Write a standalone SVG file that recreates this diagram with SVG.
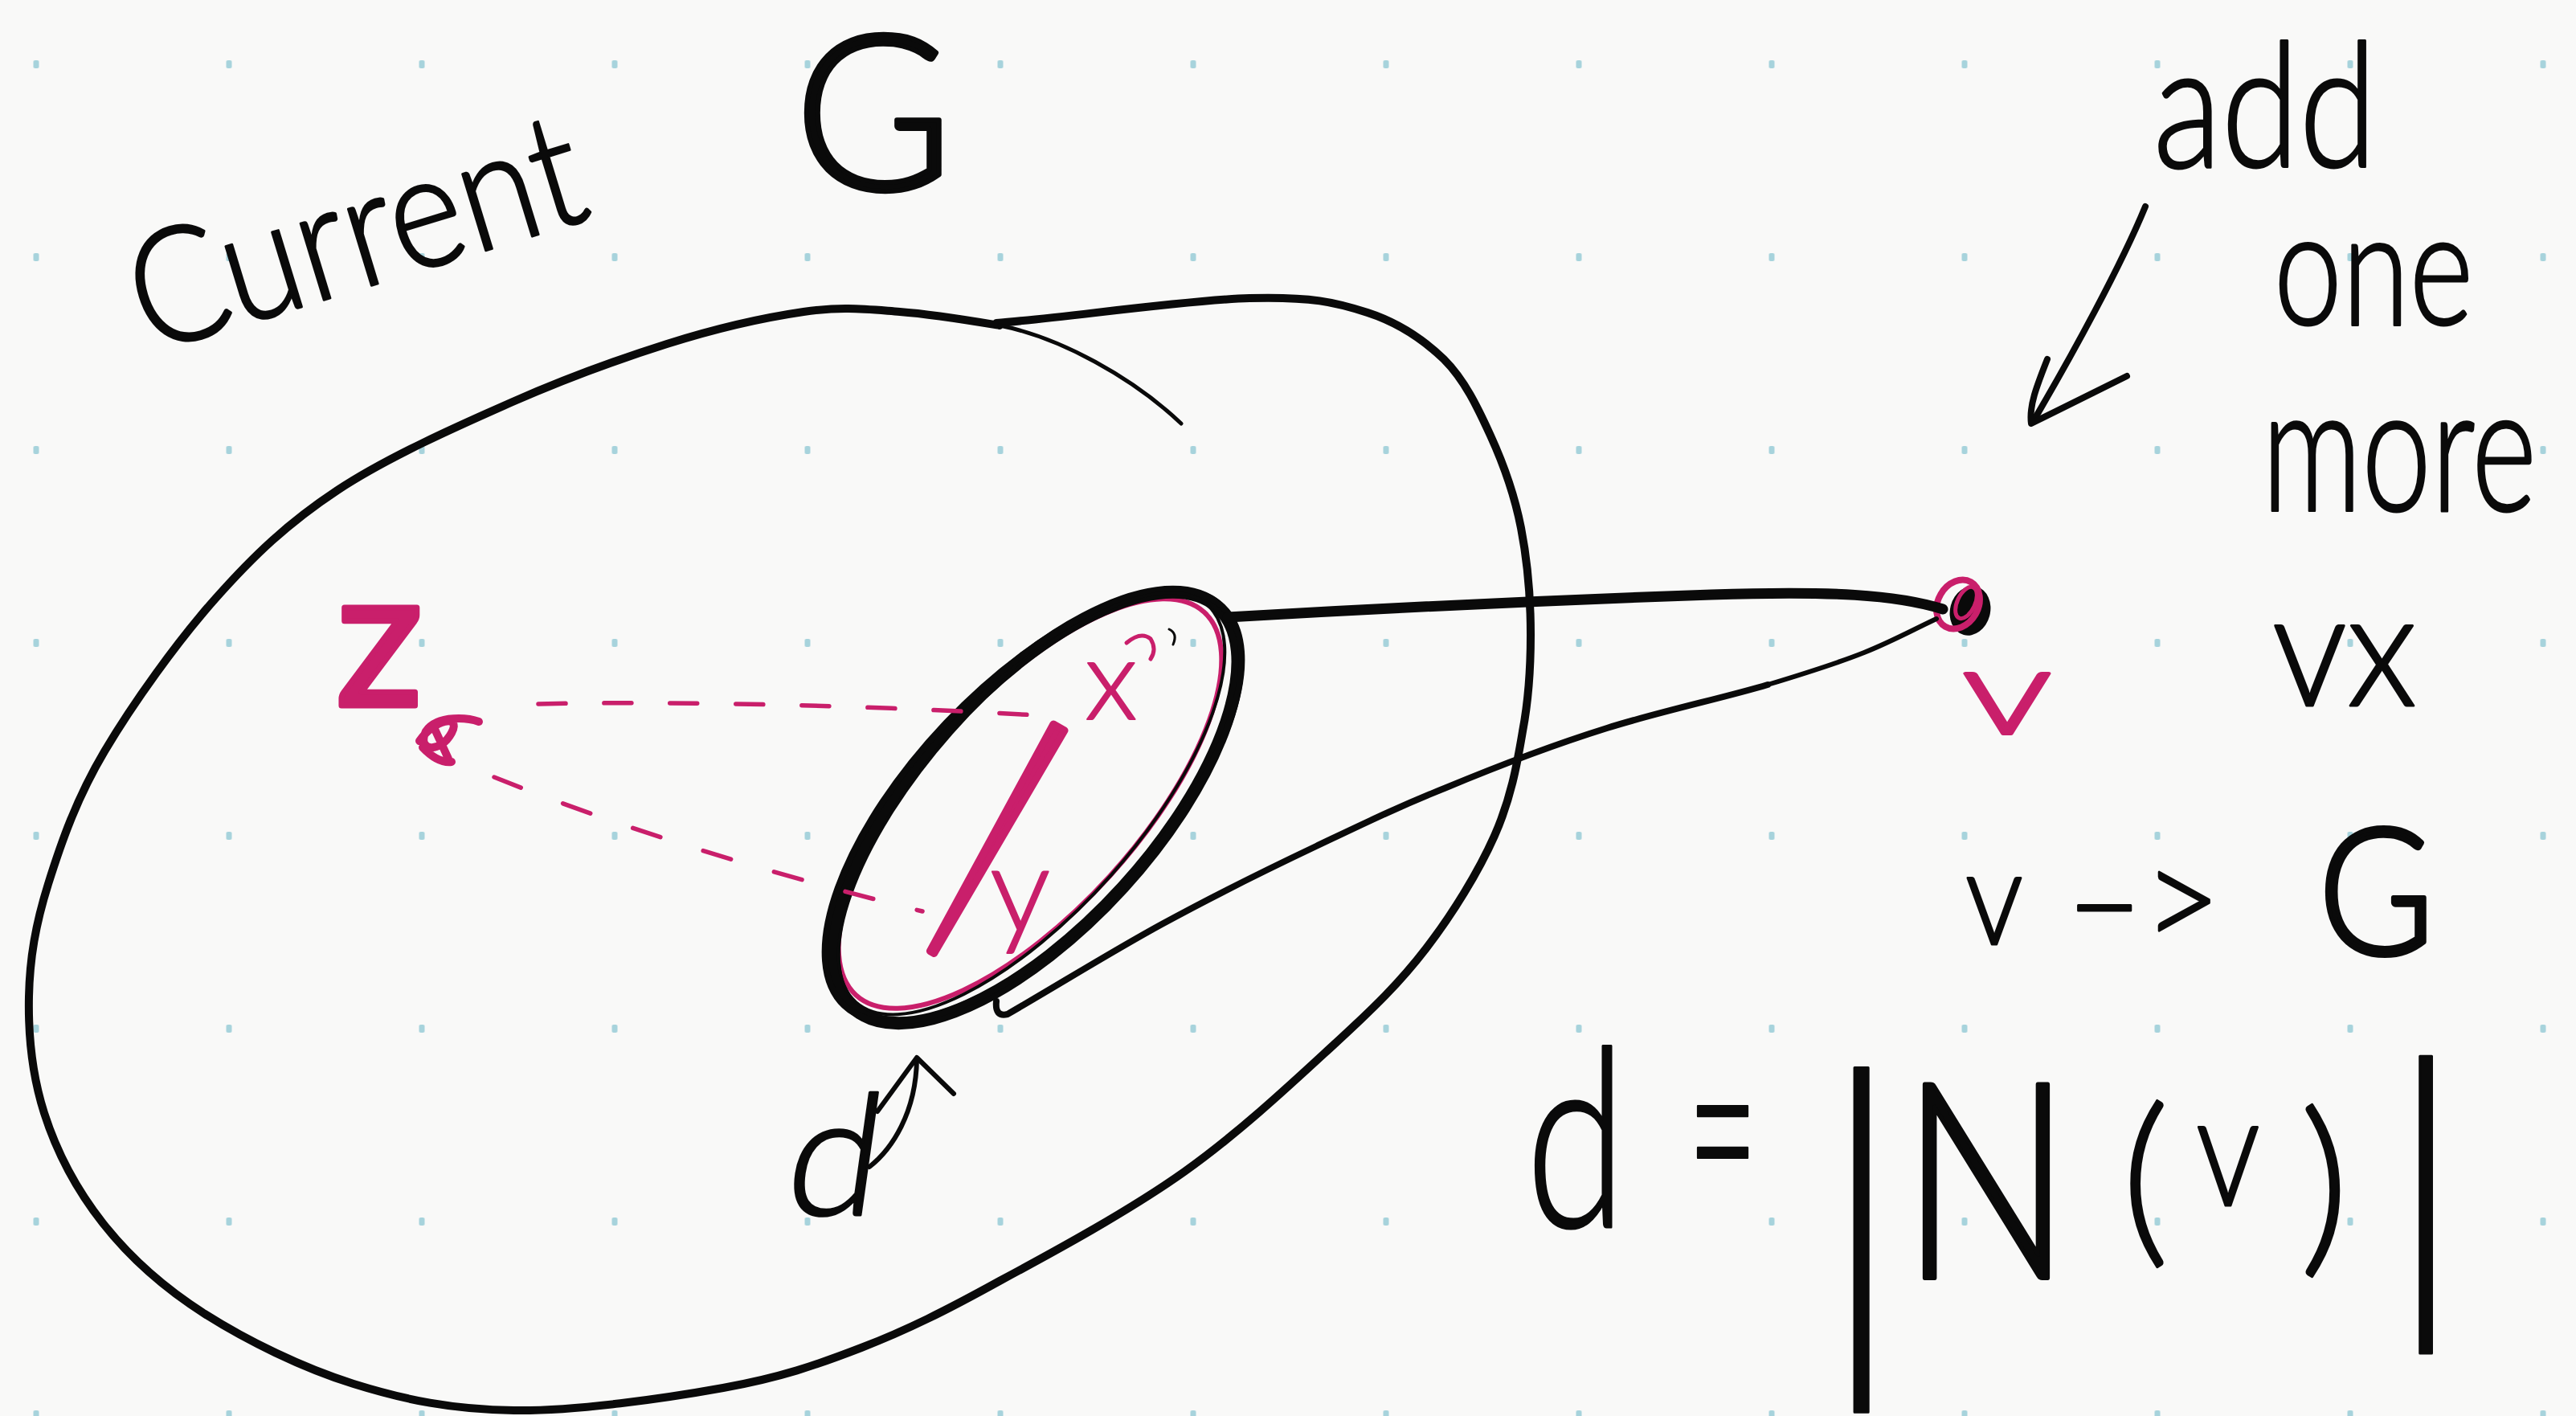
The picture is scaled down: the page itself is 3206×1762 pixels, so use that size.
<svg xmlns="http://www.w3.org/2000/svg" width="3206" height="1762" viewBox="0 0 3206 1762">
<defs>
<pattern id="dots" x="41.5" y="75" width="240" height="240" patternUnits="userSpaceOnUse">
<rect x="0" y="0" width="7" height="10" rx="2" fill="#a7d3dc"/>
</pattern>
<style>
.ink{fill:none;stroke:#0a0a0a;stroke-linecap:round;stroke-linejoin:round}
.pk{fill:none;stroke:#c91f6b;stroke-linecap:round;stroke-linejoin:round}
.hw{font-family:"Lato","Liberation Sans",sans-serif;font-weight:300;fill:#0a0a0a;stroke:#0a0a0a;stroke-width:3;stroke-linejoin:round}
.hp{font-family:"Lato","Liberation Sans",sans-serif;font-weight:300;fill:#c91f6b;stroke:#c91f6b;stroke-width:2;stroke-linejoin:round}
.heavy{stroke-width:6}
</style>
</defs>
<rect width="3206" height="1762" fill="#f9f9f8"/>
<rect width="3206" height="1762" fill="url(#dots)"/>

<g id="graph-G">
<path class="ink" stroke-width="10" d="M1240,402 C1312,397 1478,373 1555,371 C1632,369 1662,376 1702,389 C1742,402 1771,422 1797,447 C1823,473 1839,507 1855,542 C1871,577 1885,616 1893,657 C1901,698 1905,748 1905,790 C1905,832 1903,868 1895,910 C1888,952 1880,995 1860,1040 C1840,1085 1808,1137 1775,1180 C1742,1223 1710,1254 1660,1300 C1610,1346 1543,1409 1474,1458 C1405,1507 1311,1558 1244,1594 C1177,1631 1129,1655 1072,1677 C1015,1699 972,1714 900,1727 C828,1740 717,1756 640,1755 C563,1754 504,1742 440,1722 C376,1702 307,1668 255,1635 C203,1602 161,1564 128,1522 C95,1480 70,1432 55,1385 C40,1338 35,1288 36,1240 C37,1193 44,1151 60,1100 C76,1049 95,994 130,935 C165,876 220,799 268,745 C316,691 358,651 420,610 C482,569 570,530 638,500 C706,470 770,447 830,428 C890,409 952,395 1000,388 C1048,381 1079,385 1120,388 C1161,391 1214,400 1244,405"/>
<path class="ink" stroke-width="5" d="M1244,405 C1320,420 1410,470 1470,527"/>
</g>

<g id="label-current-G">
<text class="hw" x="185" y="440" font-size="200" textLength="580" lengthAdjust="spacingAndGlyphs" transform="rotate(-17 185 440)">Current</text>
<text class="hw heavy" x="988" y="236" font-size="270">G</text>
</g>

<g id="neighborhood">
<ellipse class="pk" stroke-width="6" cx="1282" cy="1000" rx="322" ry="134" transform="rotate(-47.7 1282 1000)"/>
<ellipse class="ink" stroke-width="16" cx="1289" cy="1005" rx="337" ry="147" transform="rotate(-47.7 1289 1005)"/>
<ellipse class="ink" stroke-width="8" cx="1286" cy="1003" rx="342" ry="150" transform="rotate(-46.5 1286 1003)"/>
<ellipse class="ink" stroke-width="4" cx="1284" cy="1000" rx="330" ry="133" transform="rotate(-48.5 1284 1000)"/>
<polygon points="1311,901 1157.4,1183.5 1162.6,1186.5 1325,909" fill="#c91f6b" stroke="#c91f6b" stroke-width="9" stroke-linejoin="round"/>
<text class="hp" x="1350" y="895" font-size="140">x</text>
<text class="hp" x="1232" y="1160" font-size="150">y</text>
<path class="pk" stroke-width="5" d="M1402,800 Q1420,785 1432,795 Q1440,808 1432,820"/>
<path class="ink" stroke-width="3" d="M1455,783 Q1466,788 1460,802"/>
</g>

<g id="vertex-z">
<text class="hp" x="418" y="878" font-size="240" style="font-weight:400;stroke-width:7">z</text>
<path class="pk" stroke-width="10" d="M522,922 C540,895 575,888 562,912 C548,938 518,935 530,910 C545,888 585,894 596,898 M540,905 L558,944 M526,930 Q545,950 562,948"/>
</g>

<g id="vertex-v">
<ellipse cx="2452" cy="760" rx="25" ry="31" transform="rotate(15 2452 760)" fill="#0a0a0a"/>
<ellipse class="pk" stroke-width="8" cx="2437" cy="752" rx="25" ry="32" transform="rotate(30 2437 752)"/>
<ellipse class="pk" stroke-width="5" cx="2447" cy="750" rx="11" ry="21" transform="rotate(25 2447 750)"/>
<text class="hp" x="2442" y="913" font-size="150" textLength="112" lengthAdjust="spacingAndGlyphs" style="stroke-width:4">v</text>
</g>

<g id="connectors">
<path class="ink" stroke-width="13" d="M1528,768 C1700,758 1900,748 2130,740 C2280,735 2360,740 2418,758"/>
<path class="ink" stroke-width="8" d="M1240,1246 Q1238,1266 1254,1262 C1318,1225 1382,1185 1446,1150 C1510,1115 1579,1081 1638,1053 C1697,1025 1740,1004 1800,980 C1860,955 1933,927 2000,906 C2067,885 2147,868 2200,852"/>
<path class="ink" stroke-width="6" d="M2200,852 C2253,836 2285,826 2320,812 C2355,798 2380,784 2410,770"/>
<path class="pk" stroke-width="5.5" stroke-dasharray="34 48" d="M670,876 C850,872 1080,878 1290,890"/>
<path class="pk" stroke-width="5.5" stroke-dasharray="36 56" d="M615,967 C760,1025 930,1080 1148,1134"/>
<path class="ink" stroke-width="8" d="M2670,257 C2640,330 2580,440 2530,525"/>
<path class="ink" stroke-width="8" d="M2548,447 C2535,480 2525,505 2528,527 L2647,468"/>
<path class="ink" stroke-width="6" d="M1082,1452 C1110,1430 1140,1385 1141,1318"/>
<path class="ink" stroke-width="6" d="M1092,1383 L1141,1316 L1187,1361"/>
</g>

<g id="label-add">
<text class="hw" x="2680" y="208" font-size="215" textLength="278" lengthAdjust="spacingAndGlyphs">add</text>
<text class="hw" x="2830" y="404" font-size="200" textLength="248" lengthAdjust="spacingAndGlyphs">one</text>
<text class="hw" x="2815" y="636" font-size="220" textLength="342" lengthAdjust="spacingAndGlyphs">more</text>
<text class="hw" x="2828" y="878" font-size="200" textLength="180" lengthAdjust="spacingAndGlyphs">vx</text>
</g>

<g id="label-v-to-G">
<text class="hw" x="2446" y="1175" font-size="165" textLength="72" lengthAdjust="spacingAndGlyphs">v</text>
<text class="hw" x="2571" y="1182" font-size="180" textLength="193" lengthAdjust="spacingAndGlyphs">–&gt;</text>
<text class="hw heavy" x="2885" y="1187" font-size="220" textLength="145" lengthAdjust="spacingAndGlyphs">G</text>
</g>

<g id="label-degree">
<text class="hw" x="1899" y="1527" font-size="310" textLength="125" lengthAdjust="spacingAndGlyphs">d</text>
<text class="hw" x="2100" y="1520" font-size="330" textLength="88" lengthAdjust="spacingAndGlyphs">=</text>
<text class="hw" x="2262" y="1676" font-size="458">|</text>
<text class="hw heavy" x="2366" y="1590" font-size="340" textLength="212" lengthAdjust="spacingAndGlyphs">N</text>
<text class="hw" x="2640" y="1546" font-size="232">(</text>
<text class="hw" x="2733" y="1500" font-size="196" textLength="80" lengthAdjust="spacingAndGlyphs">v</text>
<text class="hw" x="2862" y="1557" font-size="240">)</text>
<text class="hw" x="2972" y="1614" font-size="395">|</text>
</g>

<g id="label-d">
<text class="hw" x="975" y="1512" font-size="210" transform="skewX(-8) translate(210 0)">d</text>
</g>
</svg>
